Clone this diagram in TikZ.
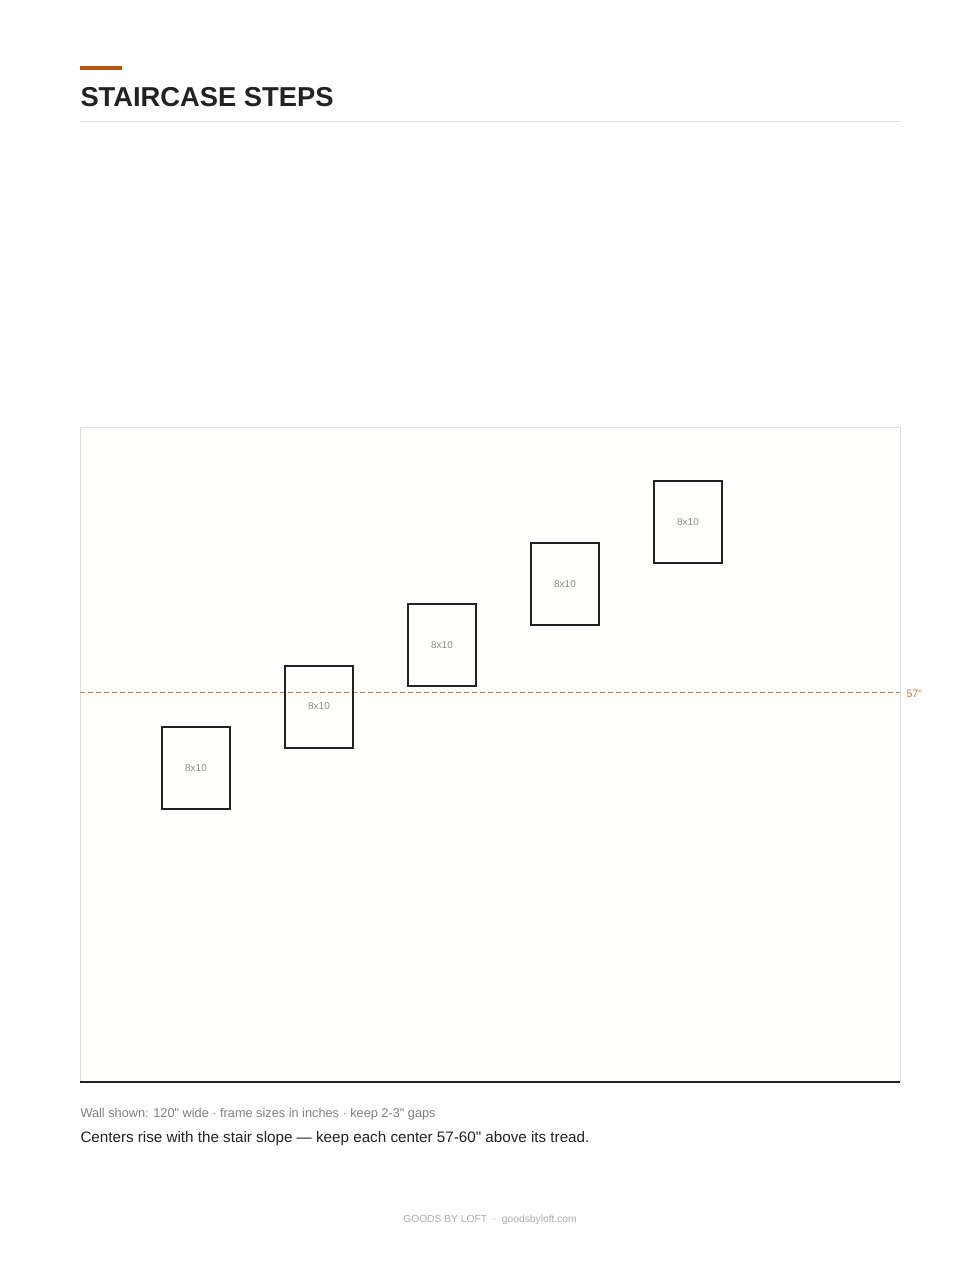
\documentclass[tikz,border=0pt]{standalone}
\usepackage{fontspec}
\setmainfont{Liberation Sans}[Ligatures=TeXOff]
\definecolor{rust}{RGB}{180,82,20}
\definecolor{guide}{RGB}{206,128,64}
\definecolor{inkdark}{RGB}{34,34,34}
\definecolor{walledge}{RGB}{221,221,221}
\tikzset{every picture/.style={line width=0.75pt},
  frame/.style={draw=inkdark,line width=1.5pt,minimum width=51pt,minimum height=61.5pt,inner sep=0pt,font=\fontsize{7.5}{9}\selectfont,text=gray!90},
  note/.style={inner sep=0pt,anchor=base west}}

\begin{document}
\begin{tikzpicture}[x=0.75pt,y=0.75pt,yscale=-1,xscale=1]
	\path[use as bounding box,fill=white] (0,0) rectangle (980,1268);
	
	%Header bar and title
	\fill[rust] (80,66) rectangle (122,70);
	\node[note,text=inkdark,font=\fontsize{20.5}{24}\selectfont\bfseries] (title) at (80,106) {STAIRCASE STEPS};
	\draw[walledge] (80,121.5) -- (900,121.5);
	
	%Wall
	\draw[walledge,fill={rgb,255:red,255;green,255;blue,253}] (80,427) rectangle (900,1082);
	\coordinate (floorL) at (80,1082);
	\coordinate (floorR) at (900,1082);
	\draw[inkdark,line width=1.6pt] (floorL) -- (floorR);
	
	%Guide line at 57"
	\coordinate (guideL) at (80,692);
	\coordinate (guideR) at (900,692);
	\draw[guide,dash pattern=on 3.75pt off 2.25pt] (guideL) -- (guideR);
	\node[note,text=guide,font=\fontsize{8}{9}\selectfont] (height) at (906,697) {57"};
	
	%Frames
	\foreach \i/\cx/\cy in {1/196/768,2/319/706.5,3/442/645,4/565/584,5/688/522}
	  \node[frame] (f\i) at (\cx,\cy) {8x10};
	
	% Text Node
	\node[note,text=gray,font=\fontsize{9.55}{11}\selectfont] (wallnote) at (80,1117.5) {Wall shown: 120" wide · frame sizes in inches · keep 2-3" gaps};
	% Text Node
	\node[note,text=inkdark,font=\fontsize{11.4}{13}\selectfont] (tip) at (80,1142.5) {Centers rise with the stair slope — keep each center 57-60" above its tread.};
	% Text Node
	\node[inner sep=0pt,anchor=base,text=gray!65,font=\fontsize{7.7}{9}\selectfont] (footer) at (490,1222.5) {GOODS BY LOFT \ · \ goodsbyloft.com};
	
\end{tikzpicture}
\end{document}
